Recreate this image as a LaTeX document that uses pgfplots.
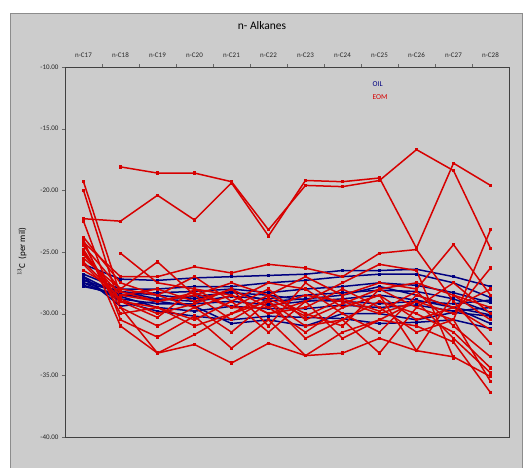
\documentclass[border=0pt]{standalone}
\usepackage{pgfplots}
\pgfplotsset{compat=1.18}
\usepackage{pgfplotstable}
\usepackage{fontspec}
\setmainfont{Carlito}
\definecolor{bg}{RGB}{204,204,204}
\definecolor{oil}{RGB}{0,0,128}
\definecolor{eom}{RGB}{215,0,0}

\pgfplotstableread{
x R1 R2 R3 R4 R5 R6 R7 R8 R9 R10 R11 R12 R13 R14 R15 R16 R17 R18
0 nan -22.3 -19.3 -20.0 -22.5 -24.0 -24.2 -24.5 -25.0 -25.5 -26.0 -23.8 nan -24.8 -25.2 -26.5 -24.3 -25.8
1 -18.1 -22.5 -28.5 -29.5 -30.5 -31.0 -27.0 -28.0 -29.0 -28.0 -29.0 -27.5 -25.1 -29.5 -28.5 -28.2 -30.0 -28.8
2 -18.6 -20.4 -29.0 -33.2 -31.9 -33.2 -27.0 -25.8 -30.3 -28.5 -29.5 -28.5 -27.5 -31.0 -28.0 -29.0 -29.5 -30.0
3 -18.6 -22.4 -28.3 -31.7 -30.2 -32.5 -26.2 -28.5 -28.0 -29.5 -31.0 -27.0 -28.0 -29.5 -29.0 -28.5 -30.5 -29.2
4 -19.3 -19.4 -29.5 -30.0 -32.8 -34.0 -26.7 -27.5 -29.5 -28.5 -30.0 -29.0 -28.5 -31.5 -28.0 -30.5 -29.0 -28.0
5 -23.2 -23.7 -28.0 -29.0 -30.5 -32.4 -26.0 -28.5 -29.5 -30.0 -28.5 -27.5 -30.0 -29.0 -31.0 -28.8 -31.5 -29.5
6 -19.6 -19.2 -30.5 -31.0 -33.4 -33.4 -26.3 -27.0 -28.5 -29.5 -30.0 -28.0 -29.0 -32.0 -27.5 -30.2 -29.0 -31.5
7 -19.7 -19.3 -29.2 -30.5 -31.5 -33.2 -27.0 -28.5 -29.0 -28.0 -31.0 -30.0 -27.5 -30.5 -29.5 -28.8 -32.0 -29.5
8 -19.2 -19.0 -28.0 -29.0 -30.5 -32.0 -25.1 -27.5 -30.0 -29.5 -28.0 -31.5 -26.0 -33.2 -28.5 -29.8 -30.5 -28.5
9 -16.7 -24.7 -29.5 -30.0 -31.0 -33.0 -24.8 -28.0 -29.0 -31.5 -27.5 -28.5 -26.5 -29.5 -33.0 -28.2 -29.0 -30.5
10 -18.4 -17.8 -30.5 -31.5 -32.3 -33.5 -29.0 -24.4 -30.0 -30.5 -28.5 -29.5 -33.6 -27.5 -28.5 -31.0 -32.0 -29.5
11 -24.7 -19.6 -35.5 -34.4 -36.4 -35.1 -32.4 -28.5 -26.3 -23.2 -30.5 -31.3 nan -30.0 -29.5 -33.5 -34.8 -28.0
}\eomdata

\pgfplotstableread{
x B1 B2 B3 B4 B5 B6 B7 B8 B9 B10
0 -26.0 -26.8 -27.0 -27.3 -27.5 -27.7 -27.2 -27.8 -27.0 -27.5
1 -27.2 -28.0 -28.5 -28.2 -28.8 -28.6 -29.0 -28.4 -29.4 -28.2
2 -27.3 -28.0 -28.3 -28.8 -29.2 -29.5 -29.8 -28.9 -29.0 -28.5
3 -27.1 -27.8 -28.2 -29.0 -29.2 -29.8 -30.2 -28.6 -29.4 -28.8
4 -27.0 -27.8 -28.0 -28.6 -29.0 -29.4 -30.5 -28.3 -30.8 -28.2
5 -26.9 -27.5 -28.3 -28.8 -29.3 -29.6 -30.2 -28.5 -30.5 -29.0
6 -26.8 -27.3 -28.0 -28.5 -29.0 -29.6 -30.3 -28.9 -31.0 -28.8
7 -26.5 -27.0 -27.8 -28.3 -28.8 -29.3 -30.4 -29.0 -30.0 -28.5
8 -26.5 -26.8 -27.5 -28.1 -28.5 -29.5 -30.8 -29.2 -30.0 -27.8
9 -26.4 -26.8 -27.7 -28.2 -28.9 -29.3 -30.7 -29.0 -30.5 -28.5
10 -27.0 -27.5 -28.3 -28.8 -29.5 -29.8 -30.5 -29.2 -29.9 -29.5
11 -27.8 -28.7 -29.1 -29.9 -30.1 -29.5 -31.2 -28.9 -30.2 -30.8
}\oildata

\begin{document}
\begin{tikzpicture}[x=1pt,y=1pt]
\useasboundingbox (-65,-30) rectangle (458,437);
\fill[bg] (-55,-31) rectangle (457,424);
\draw[black!45, line width=0.8pt] (-55,-31) -- (-55,424) -- (457,424) -- (457,-31);
\node[font=\fontsize{11.5}{13}\selectfont] at (197,411) {n- Alkanes};
\node[rotate=90, font=\fontsize{9}{10}\selectfont] at (-43,185) {$^{13}$C\ \ (per mil)};
\begin{axis}[
  at={(0,0)}, anchor=south west,
  scale only axis, width=444pt, height=370pt,
  xmin=-0.5, xmax=11.5, ymin=-40, ymax=-10,
  axis line style={black!75, line width=0.8pt},
  xtick={0,...,11},
  xticklabels={n-C17,n-C18,n-C19,n-C20,n-C21,n-C22,n-C23,n-C24,n-C25,n-C26,n-C27,n-C28},
  xtick pos=top, xticklabel pos=top,
  major x tick style={draw=none},
  minor xtick={0.5,1.5,...,10.5},
  minor x tick style={black!60},
  minor tick length=3pt,
  tick align=outside,
  ytick={-10,-15,...,-40},
  ytick pos=left,
  major tick length=3pt,
  y tick style={black!60},
  yticklabel style={/pgf/number format/fixed, /pgf/number format/fixed zerofill, /pgf/number format/precision=2, font=\fontsize{7}{8}\selectfont, text=black!85},
  /pgf/number format/assume math mode=true,
  xticklabel style={font=\fontsize{7}{8}\selectfont, yshift=3pt, text=black!85},
  clip=false,
]
\pgfplotsinvokeforeach{B1,B2,B3,B4,B5,B6,B7,B8,B9,B10}{
  \addplot[oil, line width=1.5pt, mark=square*, mark size=0.9pt] table[x=x, y=#1] {\oildata};
}
\pgfplotsinvokeforeach{R1,R2,R3,R4,R5,R6,R7,R8,R9,R10,R11,R12,R13,R14,R15,R16,R17,R18}{
  \addplot[eom, line width=1.5pt, mark=square*, mark size=0.9pt] table[x=x, y=#1] {\eomdata};
}
\node[anchor=west, text=oil, font=\fontsize{7.5}{8}\selectfont] at (rel axis cs:0.685,0.953) {OIL};
\node[anchor=west, text=eom, font=\fontsize{7.5}{8}\selectfont] at (rel axis cs:0.685,0.918) {EOM};
\end{axis}
\end{tikzpicture}
\end{document}
